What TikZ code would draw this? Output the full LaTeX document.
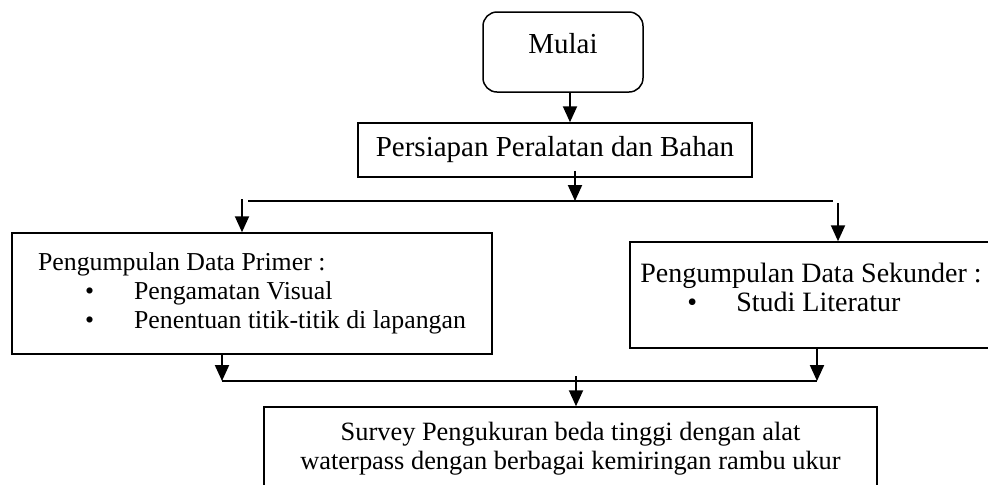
\documentclass[tikz,border=0pt]{standalone}
\usepackage{fontspec}
\setmainfont{Liberation Serif}
\usetikzlibrary{arrows.meta,positioning}
\newcommand{\butir}[1]{\hspace*{23.5pt}\makebox[24.5pt][l]{\textbullet}#1}

\begin{document}
\begin{tikzpicture}[x=0.5pt, y=-0.5pt, >={Triangle[length=8pt,width=7pt]},
    font=\fontsize{14.5pt}{14.5pt}\selectfont,
    kotak/.style={draw, line width=0.75pt, inner sep=0pt},
    mulaibox/.style={kotak, rounded corners=7pt, minimum width=80pt, minimum height=40pt, text depth=9pt},
    garis/.style={line width=1pt},
    panah/.style={garis, ->}]
    \useasboundingbox (0,0) rectangle (988,484);
    \node[mulaibox] (mulai) at (563,52) {Mulai};
    \node[kotak, minimum width=197pt, minimum height=27pt] (persiapan) at (555,150) {Persiapan Peralatan dan Bahan};
    \node[kotak, align=left, minimum width=240pt, minimum height=60.5pt,
      font=\fontsize{12.9pt}{14.5pt}\selectfont] (primer) at (252,293.5)
      {Pengumpulan Data Primer :\\ \butir{Pengamatan Visual}\\ \butir{Penentuan titik-titik di lapangan}};
    \node[kotak, align=left, minimum width=181pt, minimum height=53pt, text depth=8pt,
      font=\fontsize{14pt}{14.5pt}\selectfont] (sekunder) at (811,295)
      {Pengumpulan Data Sekunder :\\ \butir{Studi Literatur}};
    \node[kotak, align=center, minimum width=306.5pt, minimum height=41.5pt,
      font=\fontsize{13.2pt}{14.5pt}\selectfont] (survey) at (570.5,448.5)
      {Survey Pengukuran beda tinggi dengan alat\\ waterpass dengan berbagai kemiringan rambu ukur};

    \coordinate (bagiL) at (248,201);
    \coordinate (bagiR) at (833,201);
    \coordinate (kiriA) at (242,199);
    \coordinate (kananA) at (838,203);
    \coordinate (gabungL) at (222,381);
    \coordinate (gabungR) at (817,381);
    \coordinate (gabungM) at (576,376);

    \draw[panah] ([xshift=3.5pt]mulai.south) -- ([xshift=3.5pt]mulai.south |- persiapan.north);
    \draw[panah] ([xshift=10pt,yshift=3.5pt]persiapan.south) -- ([xshift=10pt]persiapan.south |- bagiL);
    \draw[garis] (bagiL) -- (bagiR);
    \draw[panah] (kiriA) -- (kiriA |- primer.north);
    \draw[panah] (kananA) -- (kananA |- sekunder.north);
    \draw[panah] (gabungL |- primer.south) -- (gabungL);
    \draw[panah] (gabungR |- sekunder.south) -- (gabungR);
    \draw[garis] (gabungL) -- (gabungR);
    \draw[panah] (gabungM) -- (gabungM |- survey.north);
\end{tikzpicture}
\end{document}
